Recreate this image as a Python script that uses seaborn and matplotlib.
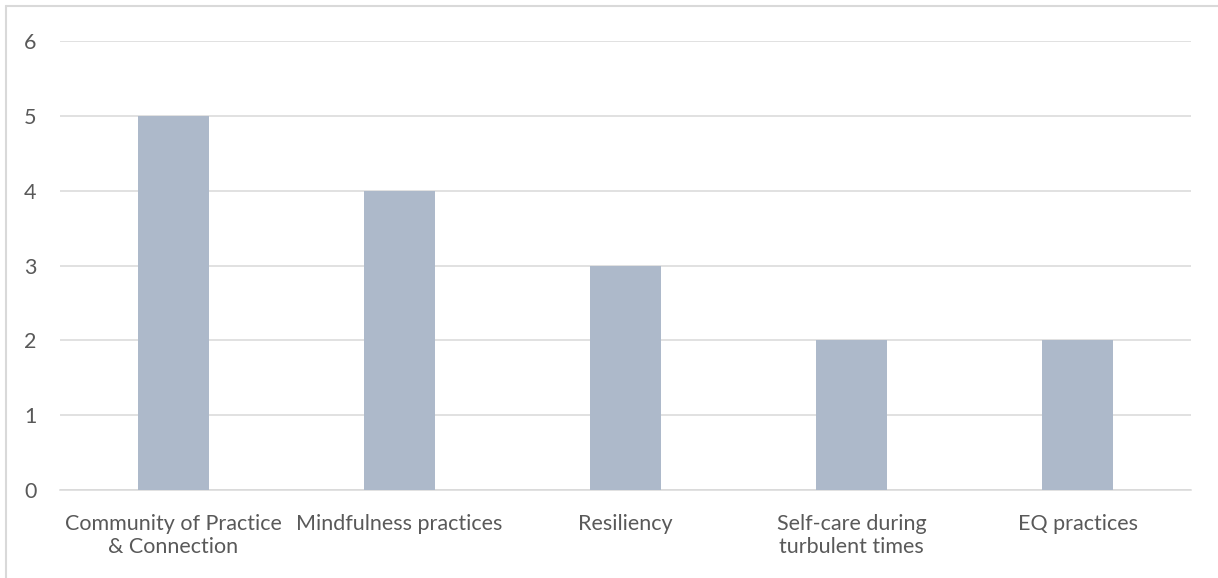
import matplotlib
matplotlib.use("Agg")
import matplotlib.pyplot as plt
from matplotlib.lines import Line2D
import seaborn as sns
import pandas as pd

categories = ["Community of Practice\n& Connection", "Mindfulness practices",
              "Resiliency", "Self-care during\nturbulent times", "EQ practices"]
counts = [5, 4, 3, 2, 2]
y_ticks = [0, 1, 2, 3, 4, 5, 6]

sns.set_theme(style="white")
plt.rcParams["font.family"] = ["Lato", "DejaVu Sans"]

df = pd.DataFrame({"topic": categories, "count": counts})

fig = plt.figure(figsize=(12.18, 5.78), dpi=100)
ax = fig.add_axes([60 / 1218, 1 - 490 / 578, (1191 - 60) / 1218, (490 - 41) / 578])

sns.barplot(data=df, x="topic", y="count", color="#adb9ca", saturation=1,
            width=0.314, linewidth=0, ax=ax, zorder=3)

ax.set_ylim(0, 6)
ax.set_yticks(y_ticks)
ax.set_xlim(-0.5, len(categories) - 0.5)
ax.yaxis.grid(True, color="#d9d9d9", linewidth=1.1, zorder=0)
ax.set_axisbelow(True)
for side in ["top", "right", "left"]:
    ax.spines[side].set_visible(False)
ax.spines["bottom"].set_color("#d9d9d9")
ax.spines["bottom"].set_linewidth(1.1)
ax.set_xlabel("")
ax.set_ylabel("")
ax.tick_params(axis="y", length=0, pad=17, labelsize=15.5, labelcolor="#595959")
ax.tick_params(axis="x", length=0, pad=17, labelsize=15.5, labelcolor="#595959")
for lbl in ax.get_xticklabels():
    lbl.set_linespacing(1.2)

# chart frame along the left and top edges
fx, fy = 6 / 1218, 1 - 6 / 578
fig.add_artist(Line2D([fx, fx], [0, fy], transform=fig.transFigure,
                      color="#d9d9d9", linewidth=1.5))
fig.add_artist(Line2D([fx, 1], [fy, fy], transform=fig.transFigure,
                      color="#d9d9d9", linewidth=1.5))

fig.savefig("out.png", dpi=100, facecolor="white")
